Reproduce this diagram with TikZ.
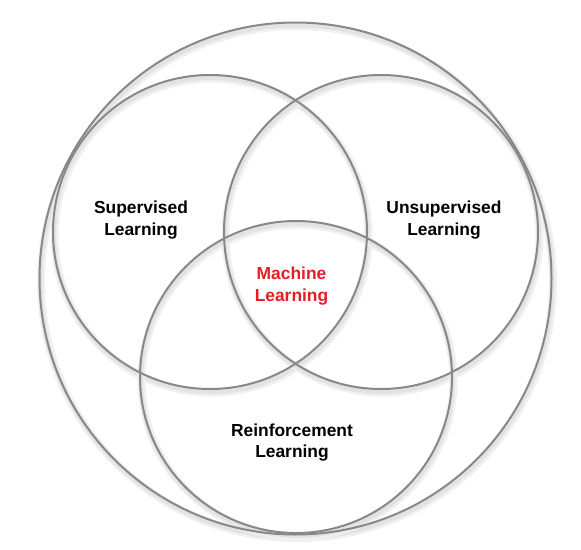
\documentclass[tikz,border=0pt]{standalone}
\usepackage{fontspec}
\setmainfont{Liberation Sans}
\usepackage{xcolor}
\definecolor{ringgray}{RGB}{136,136,136}
\definecolor{mlred}{RGB}{232,28,36}

\begin{document}
\begin{tikzpicture}[x=1pt, y=-1pt,
    ring/.style={draw=ringgray, line width=2pt},
    halo/.style={draw=black!6, line width=8pt},
    tag/.style={font=\bfseries\fontsize{17.4}{21.5}\selectfont, align=center}]
  \useasboundingbox (0,0) rectangle (581,549);
  % soft shadows under the rings
  \foreach \cx/\cy/\r in {295.5/278.5/256, 210/232/157, 381/232/157, 296/377/156}{
    \draw[halo] (\cx+1.5,\cy+3.5) circle (\r);
    \draw[halo, draw=black!11, line width=4pt] (\cx+1,\cy+3) circle (\r);
  }
  % rings
  \draw[ring] (295.5,278.5) circle (256);
  \draw[ring] (210,232) circle (157);
  \draw[ring] (381,232) circle (157);
  \draw[ring] (296,377) circle (156);
  % labels
  \node[tag] (sup) at (141,220) {Supervised\\Learning};
  \node[tag] (unsup) at (444,220) {Unsupervised\\Learning};
  \node[tag, text=mlred] (ml) at (291.5,286) {Machine\\Learning};
  \node[tag] (reinf) at (292,442.5) {Reinforcement\\Learning};
\end{tikzpicture}
\end{document}
